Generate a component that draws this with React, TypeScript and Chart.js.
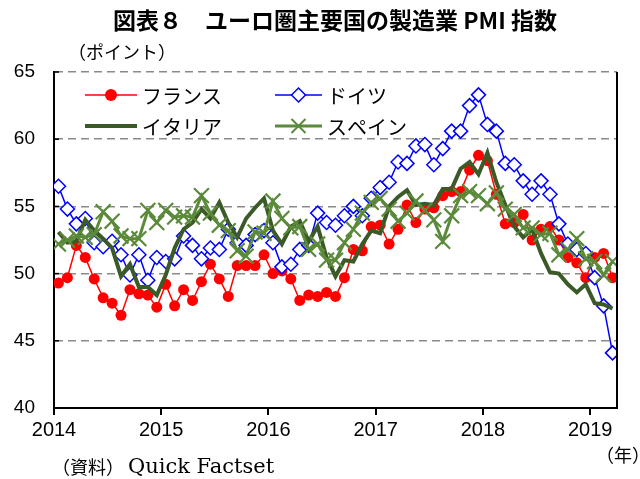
import React, { useEffect, useRef } from 'react';
import { Chart, registerables } from 'chart.js';

Chart.register(...registerables);

const startYear = 2014;
const yearTicks = [0, 12, 24, 36, 48, 60];
const yTicks = [40, 45, 50, 55, 60, 65];

const france = [
  49.3, 49.7, 52.1, 51.2, 49.6, 48.2, 47.8, 46.9, 48.8, 48.5, 48.4, 47.5,
  49.2, 47.6, 48.8, 48.0, 49.4, 50.7, 49.6, 48.3, 50.6, 50.6, 50.6, 51.4,
  50.0, 50.2, 49.6, 48.0, 48.4, 48.3, 48.6, 48.3, 49.7, 51.8, 51.7, 53.5,
  53.6, 52.2, 53.3, 55.1, 53.8, 54.8, 54.9, 55.8, 56.1, 56.1, 57.7, 58.8,
  58.4, 55.9, 53.7, 53.8, 54.4, 52.5, 53.3, 53.5, 52.5, 51.2, 50.8, 49.7,
  51.2, 51.5, 49.7,
];
const germany = [
  56.5, 54.8, 53.7, 54.1, 52.3, 52.0, 52.4, 51.4, 49.9, 51.4, 49.5, 51.2,
  50.9, 51.1, 52.8, 52.1, 51.1, 51.9, 51.8, 53.3, 52.3, 52.1, 52.9, 53.2,
  52.3, 50.5, 50.7, 51.8, 52.1, 54.5, 53.8, 53.6, 54.3, 55.0, 54.3, 55.6,
  56.4, 56.8, 58.3, 58.2, 59.5, 59.6, 58.1, 59.3, 60.6, 60.6, 62.5, 63.3,
  61.1, 60.6, 58.2, 58.1, 56.9, 55.9, 56.9, 55.9, 53.7, 52.2, 51.8, 51.5,
  49.7, 47.6, 44.1,
];
const italy = [
  53.1, 52.3, 52.4, 54.0, 53.2, 52.6, 51.9, 49.8, 50.7, 49.0, 49.0, 48.4,
  49.9, 51.9, 53.3, 53.8, 54.8, 54.1, 55.3, 53.8, 52.7, 54.1, 54.9, 55.6,
  53.2, 52.2, 53.5, 53.9, 52.4, 53.5, 51.2, 49.8, 51.0, 50.9, 52.2, 53.2,
  53.0, 55.0, 55.7, 56.2, 55.1, 55.2, 55.1, 56.3, 56.3, 57.8, 58.3, 57.4,
  59.0, 56.8, 55.1, 53.5, 52.7, 53.3, 51.5, 50.1, 50.0, 49.2, 48.6, 49.2,
  47.8, 47.7, 47.4,
];
const spain = [
  52.2, 52.5, 52.8, 52.7, 52.9, 54.6, 53.9, 52.8, 52.6, 52.6, 54.7, 53.8,
  54.7, 54.2, 54.3, 54.2, 55.8, 54.5, 53.6, 53.2, 51.7, 51.3, 53.1, 53.0,
  55.4, 54.1, 53.4, 53.5, 51.8, 52.2, 51.0, 51.0, 52.3, 53.3, 54.5, 55.3,
  55.6, 54.8, 53.9, 54.5, 55.4, 54.7, 54.0, 52.4, 54.3, 55.8, 56.1, 55.8,
  55.2, 56.0, 54.8, 54.4, 53.4, 53.4, 52.9, 53.0, 51.4, 51.8, 52.6, 51.1,
  50.9, 49.9, 50.9,
];

const seriesNames = ['フランス', 'ドイツ', 'イタリア', 'スペイン'];
const RED = '#ff0000';
const BLUE = '#0000ff';
const DARK_GREEN = '#3b5a27';
const GREEN = '#5b8a3a';

const toPoints = (arr: number[]) => arr.map((v, i) => ({ x: i + 0.5, y: v }));

const JP = '"Noto Sans CJK JP", "Noto Sans", sans-serif';

function drawMarker(ctx: CanvasRenderingContext2D, kind: string, x: number, y: number) {
  ctx.save();
  if (kind === 'circle') {
    ctx.fillStyle = RED;
    ctx.beginPath();
    ctx.arc(x, y, 6, 0, Math.PI * 2);
    ctx.fill();
  } else if (kind === 'diamond') {
    ctx.fillStyle = '#fff';
    ctx.strokeStyle = BLUE;
    ctx.lineWidth = 1.5;
    ctx.beginPath();
    ctx.moveTo(x - 7, y);
    ctx.lineTo(x, y - 7);
    ctx.lineTo(x + 7, y);
    ctx.lineTo(x, y + 7);
    ctx.closePath();
    ctx.fill();
    ctx.stroke();
  } else if (kind === 'x') {
    ctx.strokeStyle = GREEN;
    ctx.lineWidth = 2;
    const d = 7;
    ctx.beginPath();
    ctx.moveTo(x - d, y - d);
    ctx.lineTo(x + d, y + d);
    ctx.moveTo(x + d, y - d);
    ctx.lineTo(x - d, y + d);
    ctx.stroke();
  }
  ctx.restore();
}

const decor = {
  id: 'decor',
  afterDraw(chart: any) {
    const { ctx, chartArea: ca, scales } = chart;
    const ys = scales.y;
    ctx.save();
    // right border
    ctx.strokeStyle = '#000';
    ctx.lineWidth = 2;
    ctx.beginPath();
    ctx.moveTo(ca.right, ca.top);
    ctx.lineTo(ca.right, ca.bottom + 1);
    ctx.stroke();
    // inner y tick marks
    ctx.lineWidth = 1.5;
    for (const v of yTicks) {
      const py = ys.getPixelForValue(v);
      ctx.beginPath();
      ctx.moveTo(ca.left, py);
      ctx.lineTo(ca.left + 5, py);
      ctx.stroke();
    }

    // title
    ctx.fillStyle = '#000';
    ctx.textBaseline = 'middle';
    ctx.textAlign = 'center';
    ctx.font = 'bold 23px ' + JP;
    ctx.fillText('図表８　ユーロ圏主要国の製造業 PMI 指数', 335, 20);

    ctx.textAlign = 'left';
    ctx.font = '18px ' + JP;
    ctx.fillText('（ポイント）', 68, 52);

    ctx.font = '18px ' + JP;
    ctx.fillText('（年）', 596, 455);

    ctx.font = '18px ' + JP;
    ctx.fillText('（資料）', 52, 467);
    ctx.font = '21px "DejaVu Serif", serif';
    ctx.fillText('Quick Factset', 128, 468);

    // legend
    const items = [
      { name: seriesNames[0], x: 85, y: 95, color: RED, w: 1.5, marker: 'circle' },
      { name: seriesNames[1], x: 275, y: 95, color: BLUE, w: 1.5, marker: 'diamond' },
      { name: seriesNames[2], x: 85, y: 126, color: DARK_GREEN, w: 4, marker: '' },
      { name: seriesNames[3], x: 275, y: 126, color: GREEN, w: 3, marker: 'x' },
    ];
    ctx.font = '20px ' + JP;
    for (const it of items) {
      const len = it.x < 200 ? 52 : 47;
      ctx.strokeStyle = it.color;
      ctx.lineWidth = it.w;
      ctx.beginPath();
      ctx.moveTo(it.x, it.y);
      ctx.lineTo(it.x + len, it.y);
      ctx.stroke();
      if (it.marker) drawMarker(ctx, it.marker, it.x + len / 2, it.y);
      ctx.fillStyle = '#000';
      ctx.fillText(it.name, it.x + len + 5, it.y + 1);
    }
    ctx.restore();
  },
};

export default function App() {
  const ref = useRef<HTMLCanvasElement | null>(null);

  useEffect(() => {
    document.body.style.margin = '0';
    const canvas = ref.current;
    if (!canvas) return;
    const chart = new Chart(canvas, {
      type: 'line',
      data: {
        datasets: [
          {
            label: seriesNames[0],
            data: toPoints(france),
            borderColor: RED,
            backgroundColor: RED,
            borderWidth: 1.5,
            pointStyle: 'circle',
            pointRadius: 5.5,
            pointBorderWidth: 0,
            pointBackgroundColor: RED,
            order: 4,
          },
          {
            label: seriesNames[1],
            data: toPoints(germany),
            borderColor: BLUE,
            backgroundColor: '#ffffff',
            borderWidth: 1.5,
            pointStyle: 'rectRot',
            pointRadius: 7,
            pointBorderWidth: 1.5,
            pointBackgroundColor: '#ffffff',
            pointBorderColor: BLUE,
            order: 3,
          },
          {
            label: seriesNames[2],
            data: toPoints(italy),
            borderColor: DARK_GREEN,
            borderWidth: 4,
            pointRadius: 0,
            order: 2,
          },
          {
            label: seriesNames[3],
            data: toPoints(spain),
            borderColor: GREEN,
            backgroundColor: GREEN,
            borderWidth: 3,
            pointStyle: 'crossRot',
            pointRadius: 10.5,
            pointBorderWidth: 2.2,
            pointBorderColor: GREEN,
            order: 1,
          },
        ],
      },
      options: {
        responsive: false,
        animation: false,
        devicePixelRatio: 1,
        layout: { padding: { left: 0, right: 23, top: 72, bottom: 0 } },
        plugins: { legend: { display: false }, tooltip: { enabled: false }, title: { display: false } },
        elements: { line: { tension: 0 } },
        scales: {
          x: {
            type: 'linear',
            min: 0,
            max: 63,
            afterFit: (s: any) => { s.height = 71; },
            afterBuildTicks: (s: any) => { s.ticks = yearTicks.map((v) => ({ value: v })); },
            ticks: {
              color: '#000',
              font: { family: '"Liberation Sans", Arial, sans-serif', size: 20 },
              padding: 3,
              maxRotation: 0,
              autoSkip: false,
              callback: (v: any) => String(startYear + Math.round(Number(v) / 12)),
            },
            grid: { display: true, drawOnChartArea: false, drawTicks: true, tickLength: 7, color: '#000', lineWidth: 2 },
            border: { display: true, color: '#000', width: 2 },
          },
          y: {
            type: 'linear',
            min: 40,
            max: 65,
            afterFit: (s: any) => { s.width = 54; },
            afterBuildTicks: (s: any) => { s.ticks = yTicks.map((v) => ({ value: v })); },
            ticks: {
              color: '#000',
              font: { family: '"Liberation Sans", Arial, sans-serif', size: 19 },
              padding: 19,
            },
            grid: {
              drawTicks: false,
              color: (c: any) => (c.tick && c.tick.value === 40 ? 'rgba(0,0,0,0)' : '#8a8a8a'),
              lineWidth: 1.5,
            },
            border: { display: true, color: '#000', width: 2, dash: [8, 5] },
          },
        },
      },
      plugins: [decor],
    });
    return () => chart.destroy();
  }, []);

  return (
    <div style={{ position: 'fixed', left: 0, top: 0, width: 640, height: 479, background: '#fff' }}>
      <canvas ref={ref} width={640} height={479} style={{ width: 640, height: 479, display: 'block' }} />
    </div>
  );
}
